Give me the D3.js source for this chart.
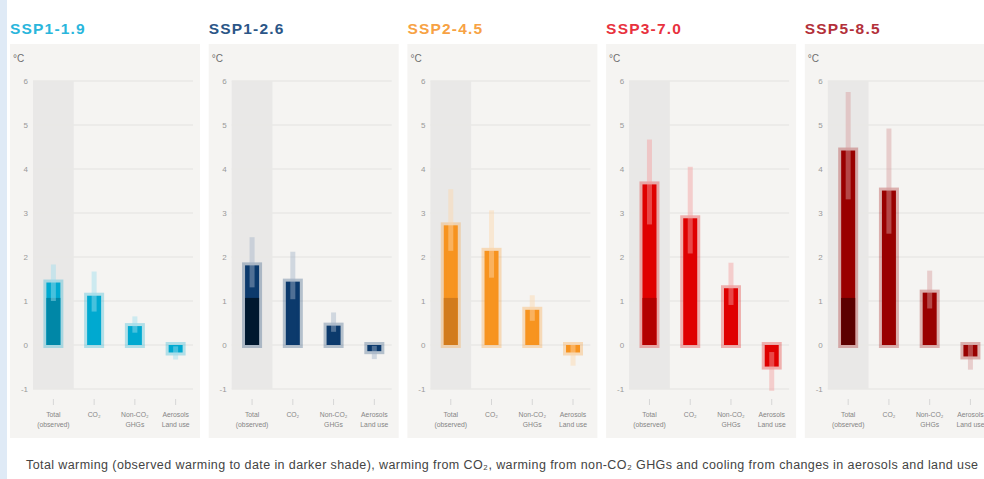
<!DOCTYPE html>
<html lang="en">
<head>
  <meta charset="UTF-8" />
  <title>Contribution to warming by SSP</title>
  <script src="https://d3js.org/d3.v7.min.js"></script>
  <style>
    body {
      margin: 0;
      padding: 0;
      background: #fff;
      font-family: "Liberation Sans", Arial, sans-serif;
    }
    svg { display: block; }
    .title { font-weight: bold; font-size: 15.5px; letter-spacing: 1.2px; }
    .unit { font-size: 10px; fill: #6f6f6f; }
    .ytick { font-size: 8px; fill: #999; }
    .xlab { font-size: 6.8px; fill: #858585; }
    .caption { font-size: 12.5px; fill: #444; }
  </style>
</head>
<body>
  <svg width="984" height="479"></svg>

  <script>
    // scenarios and their colours
    const scenarios = ["SSP1-1.9", "SSP1-2.6", "SSP2-4.5", "SSP3-7.0", "SSP5-8.5"];
    const barColors = ["#00a9d0", "#0c3a6c", "#f7941f", "#e00000", "#990000"];
    const darkColors = ["#0087a7", "#00182f", "#d27b1c", "#b30000", "#5c0000"];
    const titleColors = ["#2ab6dc", "#2b5687", "#f7a244", "#e8323e", "#b3303a"];

    const categories = ["Total (observed)", "CO₂", "Non-CO₂ GHGs", "Aerosols Land use"];
    const categoryLines = [["Total", "(observed)"], ["CO₂"], ["Non-CO₂", "GHGs"], ["Aerosols", "Land use"]];

    // °C, 2081-2100 vs 1850-1900
    const totalMid = [1.42, 1.81, 2.72, 3.65, 4.42];
    const totalLow = [1.0, 1.31, 2.14, 2.74, 3.31];
    const totalHigh = [1.83, 2.45, 3.54, 4.67, 5.75];
    const observed = [1.07, 1.07, 1.07, 1.07, 1.07];

    const co2Mid = [1.12, 1.44, 2.14, 2.88, 3.51];
    const co2Low = [0.76, 1.04, 1.53, 2.08, 2.53];
    const co2High = [1.67, 2.12, 3.06, 4.05, 4.92];

    const nonCo2Mid = [0.43, 0.44, 0.8, 1.29, 1.19];
    const nonCo2Low = [0.28, 0.3, 0.55, 0.91, 0.83];
    const nonCo2High = [0.65, 0.74, 1.13, 1.87, 1.69];

    const aerosolMid = [-0.17, -0.14, -0.17, -0.49, -0.26];
    const aerosolLow = [-0.33, -0.32, -0.47, -1.04, -0.56];
    const aerosolHigh = [-0.03, -0.02, 0.05, -0.16, 0.0];

    const yTicks = [-1, 0, 1, 2, 3, 4, 5, 6];

    const caption = "Total warming (observed warming to date in darker shade), warming from CO₂, warming from non-CO₂ GHGs and cooling from changes in aerosols and land use";

    const svg = d3.select("svg");

    // thin blue strip at left edge
    svg.append("rect")
      .attr("x", 0).attr("y", 0)
      .attr("width", 7).attr("height", 479)
      .attr("fill", "#dfeaf6");

    const panelX = d3.scaleBand()
      .domain(scenarios)
      .range([10, 994.8])
      .paddingInner(0.0438)
      .paddingOuter(0);

    const x = d3.scaleBand()
      .domain(categories)
      .range([23, 186])
      .padding(0);

    const y = d3.scaleLinear()
      .domain([-1, 6])
      .range([389, 81]);

    const barW = 14;
    const whiskW = 5;

    scenarios.forEach((s, i) => {
      const col = barColors[i];
      const tint = d3.interpolateRgb(col, "#ffffff")(0.62);

      const rows = [
        { cat: categories[0], mid: totalMid[i], lo: totalLow[i], hi: totalHigh[i] },
        { cat: categories[1], mid: co2Mid[i], lo: co2Low[i], hi: co2High[i] },
        { cat: categories[2], mid: nonCo2Mid[i], lo: nonCo2Low[i], hi: nonCo2High[i] },
        { cat: categories[3], mid: aerosolMid[i], lo: aerosolLow[i], hi: aerosolHigh[i] }
      ];

      // title above the panel
      svg.append("text")
        .attr("class", "title")
        .attr("x", panelX(s))
        .attr("y", 34)
        .attr("fill", titleColors[i])
        .text(s);

      const g = svg.append("g")
        .attr("transform", `translate(${panelX(s)},0)`);

      g.append("rect")
        .attr("x", 0).attr("y", 44)
        .attr("width", panelX.bandwidth())
        .attr("height", 394)
        .attr("fill", "#f5f4f2");

      g.append("text")
        .attr("class", "unit")
        .attr("x", 3).attr("y", 62)
        .text("°C");

      // shaded column behind the total bar
      g.append("rect")
        .attr("x", x(categories[0]))
        .attr("y", y(6))
        .attr("width", x.bandwidth())
        .attr("height", y(-1) - y(6))
        .attr("fill", "#e9e8e7");

      // grid + y labels
      g.selectAll(".grid")
        .data(yTicks)
        .enter()
        .append("line")
        .attr("x1", x.range()[0])
        .attr("x2", 183)
        .attr("y1", d => y(d))
        .attr("y2", d => y(d))
        .attr("stroke", "#e9e8e6")
        .attr("stroke-width", 1.5);

      g.selectAll(".ytick")
        .data(yTicks)
        .enter()
        .append("text")
        .attr("class", "ytick")
        .attr("x", 18)
        .attr("y", d => y(d) + 3)
        .attr("text-anchor", "end")
        .text(d => d);

      const cx = d => x(d.cat) + x.bandwidth() / 2;

      // bars
      g.selectAll(".bar")
        .data(rows)
        .enter()
        .append("rect")
        .attr("x", d => cx(d) - barW / 2)
        .attr("y", d => y(Math.max(0, d.mid)))
        .attr("width", barW)
        .attr("height", d => Math.abs(y(d.mid) - y(0)))
        .attr("fill", col)
        .attr("stroke", col)
        .attr("stroke-opacity", 0.28)
        .attr("stroke-width", 6);

      // observed warming part of the total
      g.append("rect")
        .attr("x", cx(rows[0]) - barW / 2)
        .attr("y", y(observed[i]))
        .attr("width", barW)
        .attr("height", y(0) - y(observed[i]))
        .attr("fill", darkColors[i]);

      // likely ranges
      g.selectAll(".whisk")
        .data(rows)
        .enter()
        .append("rect")
        .attr("x", d => cx(d) - whiskW / 2)
        .attr("y", d => y(d.hi))
        .attr("width", whiskW)
        .attr("height", d => y(d.lo) - y(d.hi))
        .attr("fill", tint)
        .attr("opacity", 0.45);

      // x ticks + labels
      g.selectAll(".xtick")
        .data(rows)
        .enter()
        .append("line")
        .attr("x1", cx).attr("x2", cx)
        .attr("y1", 399).attr("y2", 405)
        .attr("stroke", "#d6d6d6");

      categoryLines.forEach((lines, k) => {
        const t = g.append("text")
          .attr("class", "xlab")
          .attr("text-anchor", "middle")
          .attr("x", cx(rows[k]))
          .attr("y", 417);
        lines.forEach((ln, j) => {
          t.append("tspan")
            .attr("x", cx(rows[k]))
            .attr("dy", j === 0 ? 0 : 10)
            .text(ln);
        });
      });
    });

    svg.append("text")
      .attr("class", "caption")
      .attr("x", 26)
      .attr("y", 469)
      .attr("textLength", 952)
      .attr("lengthAdjust", "spacing")
      .text(caption);
  </script>
</body>
</html>
